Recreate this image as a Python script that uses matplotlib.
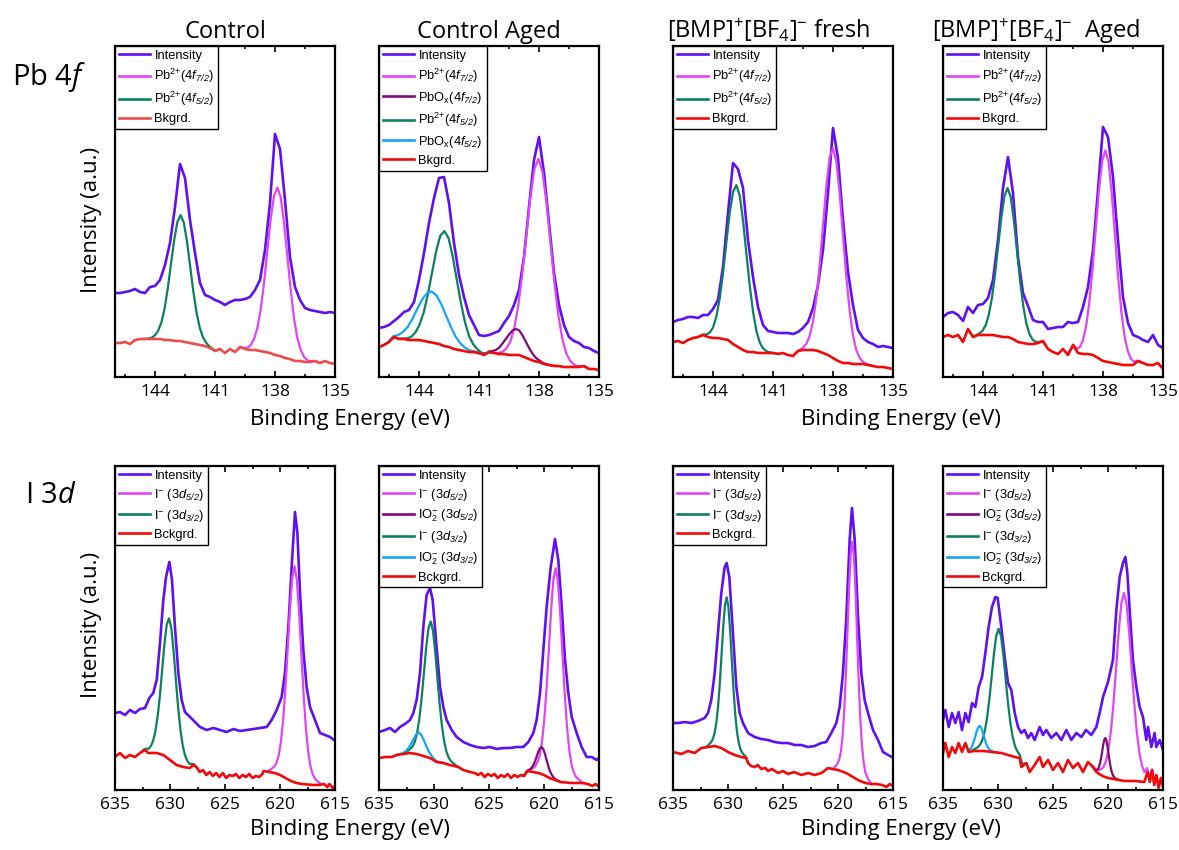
import numpy as np
import matplotlib
matplotlib.use('Agg')
import matplotlib.pyplot as plt
from matplotlib.ticker import MultipleLocator

plt.rcParams['font.family'] = ['Open Sans', 'DejaVu Sans']
plt.rcParams['mathtext.fontset'] = 'custom'
plt.rcParams['mathtext.rm'] = 'Open Sans'
plt.rcParams['mathtext.it'] = 'Open Sans:italic'
plt.rcParams['mathtext.sf'] = 'Liberation Sans:italic'

# ---------------------------------------------------------------- data
column_titles = ['Control', 'Control Aged',
                 '[BMP]$\\mathregular{^{+}}$[BF$\\mathregular{_{4}}$]$\\mathregular{^{-}}$ fresh',
                 '[BMP]$\\mathregular{^{+}}$[BF$\\mathregular{_{4}}$]$\\mathregular{^{-}}$  Aged']
row_titles = ['Pb 4$\\mathit{f}$', 'I 3$\\mathit{d}$']

pb_ticks_major, pb_ticks_minor = 3, 1.5
i_ticks_major, i_ticks_minor = 5, 2.5
pb_range = (146, 135)
i_range = (635, 615)

# Pb 4f: shared binding-energy grid (eV)
pb_energy = np.linspace(146.0, 135.0, 45)

pb_control_int = [84, 84, 85, 86, 88, 85, 84, 90, 91, 97, 112, 134, 170, 213, 199,
                  157, 124, 94, 82, 80, 77, 75, 72, 75, 77, 77, 78, 80, 87, 97,
                  127, 174, 243, 228, 177, 120, 90, 77, 69, 67, 66, 65, 64, 65, 64]
pb_control_bkg = [34, 34, 35, 33, 37, 38, 38, 38, 38, 38, 37, 37, 36, 36, 35,
                  34, 33, 32, 31, 29, 26, 28, 24, 28, 25, 30, 28, 27, 27, 26,
                  25, 24, 22, 21, 19, 18, 16, 16, 15, 15, 16, 14, 16, 14, 13]
pb_aged_int = [49, 50, 52, 56, 60, 65, 67, 75, 97, 124, 154, 179, 199, 200, 174,
               134, 102, 80, 62, 52, 42, 41, 42, 44, 46, 54, 61, 72, 87, 120,
               170, 217, 240, 204, 154, 104, 72, 52, 40, 36, 34, 30, 29, 26, 24]
pb_aged_bkg = [30, 32, 35, 40, 38, 38, 37, 37, 37, 36, 35, 34, 33, 31, 30,
               28, 27, 26, 25, 25, 24, 22, 25, 24, 23, 23, 22, 22, 22, 20,
               18, 16, 15, 13, 12, 11, 11, 10, 10, 10, 10, 11, 8, 8, 7]
pb_bmp_int = [55, 57, 58, 60, 60, 59, 62, 62, 68, 77, 110, 164, 214, 208, 189,
              137, 100, 70, 52, 46, 45, 44, 44, 44, 43, 45, 49, 55, 69, 92,
              127, 184, 249, 219, 157, 105, 72, 47, 39, 35, 33, 30, 31, 30, 29]
pb_bmp_bkg = [35, 36, 34, 37, 39, 40, 42, 40, 39, 39, 38, 37, 33, 30, 27,
              25, 25, 24, 24, 24, 24, 23, 24, 22, 21, 26, 27, 27, 27, 26,
              24, 22, 19, 16, 14, 14, 13, 13, 13, 12, 11, 10, 10, 9, 8]
pb_bmpaged_int = [60, 64, 65, 62, 56, 70, 64, 72, 73, 79, 97, 137, 189, 220, 184,
                  120, 84, 71, 57, 55, 55, 48, 49, 50, 50, 55, 54, 55, 70, 90,
                  127, 187, 250, 240, 200, 137, 80, 54, 42, 40, 37, 35, 42, 32, 29]
pb_bmpaged_bkg = [40, 42, 40, 42, 35, 48, 40, 42, 42, 42, 42, 41, 40, 40, 38,
                  35, 34, 33, 33, 34, 36, 28, 25, 23, 28, 22, 32, 24, 23, 23,
                  22, 19, 16, 15, 14, 13, 12, 12, 12, 16, 14, 12, 12, 14, 8]

# Pb 4f fitted components (height above background), with their energy spans
pb_control_72_span = (139.88, 135.88)
pb_control_72 = [0, 0.2, 0.7, 1.8, 4.9, 11.1, 22.7, 41.8, 69.0, 102.0, 134.6, 158.9, 168,
                 158.9, 134.6, 102.0, 69.0, 41.8, 22.7, 11.1, 4.9, 1.8, 0.7, 0.2, 0]
pb_control_52_span = (144.64, 140.80)
pb_control_52 = [0, 0.1, 0.5, 1.4, 3.7, 8.3, 17.0, 31.4, 51.8, 76.5, 100.9, 119.2, 126,
                 119.2, 100.9, 76.5, 51.8, 31.4, 17.0, 8.3, 3.7, 1.4, 0.5, 0.1, 0]

pb_aged_72_span = (140.43, 135.63)
pb_aged_72 = [0, 0.2, 0.8, 2.2, 5.9, 13.4, 27.4, 50.5, 83.4, 123.2, 162.6, 192.0, 203,
              192.0, 162.6, 123.2, 83.4, 50.5, 27.4, 13.4, 5.9, 2.2, 0.8, 0.2, 0]
pb_aged_ox72_span = (141.15, 137.15)
pb_aged_ox72 = [0, 0, 0.1, 0.3, 0.8, 1.7, 3.5, 6.5, 10.7, 15.8, 20.8, 24.6, 26,
                24.6, 20.8, 15.8, 10.7, 6.5, 3.5, 1.7, 0.8, 0.3, 0.1, 0, 0]
pb_aged_52_span = (145.21, 140.25)
pb_aged_52 = [0, 0.1, 0.5, 1.3, 3.3, 7.6, 15.5, 28.6, 47.3, 69.8, 92.1, 108.8, 115,
              108.8, 92.1, 69.8, 47.3, 28.6, 15.5, 7.6, 3.3, 1.3, 0.5, 0.1, 0]
pb_aged_ox52_span = (146.25, 140.49)
pb_aged_ox52 = [0, 0.1, 0.2, 0.6, 1.5, 3.4, 6.9, 12.7, 21.0, 31.0, 40.9, 48.2, 51,
                48.2, 40.9, 31.0, 21.0, 12.7, 6.9, 3.4, 1.5, 0.6, 0.2, 0.1, 0]

pb_bmp_72_span = (140.00, 136.00)
pb_bmp_72 = [0, 0.2, 0.8, 2.3, 6.1, 13.9, 28.4, 52.3, 86.3, 127.5, 168.2, 198.7, 210,
             198.7, 168.2, 127.5, 86.3, 52.3, 28.4, 13.9, 6.1, 2.3, 0.8, 0.2, 0]
pb_bmp_52_span = (144.83, 140.83)
pb_bmp_52 = [0, 0.2, 0.6, 1.8, 4.7, 10.6, 21.7, 40.1, 66.2, 97.7, 129.0, 152.3, 161,
             152.3, 129.0, 97.7, 66.2, 40.1, 21.7, 10.6, 4.7, 1.8, 0.6, 0.2, 0]

pb_bmpaged_72_span = (139.80, 135.96)
pb_bmpaged_72 = [0, 0.2, 0.8, 2.3, 6.1, 13.9, 28.5, 52.5, 86.7, 128.1, 169.0, 199.6, 211,
                 199.6, 169.0, 128.1, 86.7, 52.5, 28.5, 13.9, 6.1, 2.3, 0.8, 0.2, 0]
pb_bmpaged_52_span = (144.65, 140.89)
pb_bmpaged_52 = [0, 0.1, 0.6, 1.6, 4.3, 9.8, 20.1, 37.1, 61.2, 90.4, 119.3, 141.0, 149,
                 141.0, 119.3, 90.4, 61.2, 37.1, 20.1, 9.8, 4.3, 1.6, 0.6, 0.1, 0]

# I 3d: measured spectra (eV, a.u.)
i_control_int_e = [635.0, 634.55, 634.09, 633.64, 633.18, 632.73, 632.27, 631.88, 631.52, 631.21,
                   630.91, 630.61, 630.36, 630.06, 629.82, 629.55, 629.24, 628.94, 628.64, 628.18,
                   627.73, 627.27, 626.67, 626.06, 625.45, 624.85, 624.24, 623.64, 623.03, 622.42,
                   621.82, 621.21, 620.76, 620.30, 619.85, 619.55, 619.24, 618.94, 618.64, 618.42,
                   618.18, 617.88, 617.58, 617.27, 616.82, 616.36, 615.91, 615.45, 615.09]
i_control_int = [77, 78, 75, 80, 77, 81, 82, 92, 97, 110,
                 147, 190, 213, 228, 210, 163, 117, 90, 78, 73,
                 68, 63, 60, 62, 60, 58, 61, 59, 60, 61,
                 62, 63, 70, 80, 93, 117, 163, 223, 278, 257,
                 197, 140, 103, 83, 70, 57, 55, 53, 50]
i_control_bkg_e = [635.0, 634.55, 634.09, 633.64, 633.18, 632.73, 632.27, 631.97, 631.21, 630.61,
                   630.0, 629.4, 628.8, 628.2, 627.9, 627.6, 627.3, 627.0, 626.7, 626.4,
                   626.1, 625.8, 625.5, 625.2, 624.9, 624.6, 624.3, 624.0, 623.7, 623.4,
                   623.1, 622.8, 622.5, 622.2, 621.9, 621.6, 621.5, 621.0, 620.5, 620.0,
                   619.5, 619.0, 618.5, 618.0, 617.0, 616.5, 616.0, 615.7, 615.5, 615.2, 615.0]
i_control_bkg = [33, 37, 32, 35, 33, 37, 40, 37, 37, 35,
                 30, 25, 23, 22, 25, 23, 18, 20, 15, 18,
                 14, 17, 13, 17, 12, 15, 14, 16, 12, 15,
                 13, 16, 12, 14, 13, 16, 19, 18, 17, 15,
                 12, 9, 7, 6, 5, 5, 6, 3, 6, 2, 4]

i_aged_int_e = [635.0, 634.45, 634.0, 633.55, 633.09, 632.64, 632.18, 631.88, 631.58, 631.27,
                630.97, 630.67, 630.36, 630.12, 629.82, 629.45, 629.15, 628.85, 628.39, 627.94,
                627.33, 626.73, 626.12, 625.52, 624.91, 624.30, 623.70, 623.09, 622.48, 621.88,
                621.42, 620.97, 620.67, 620.36, 620.06, 619.76, 619.39, 619.0, 618.70, 618.39,
                618.09, 617.79, 617.48, 617.03, 616.58, 616.12, 615.67, 615.21, 615.0]
i_aged_int = [58, 60, 62, 58, 63, 66, 70, 77, 90, 117,
              163, 195, 202, 190, 150, 103, 83, 70, 60, 53,
              48, 45, 43, 42, 43, 41, 42, 42, 43, 43,
              48, 57, 70, 97, 140, 183, 223, 251, 230, 183,
              130, 97, 73, 57, 43, 33, 33, 30, 32]
i_aged_bkg_e = [635.0, 634.45, 633.85, 633.4, 632.79, 632.18, 631.58, 630.97, 630.36, 629.76,
                629.15, 628.55, 627.79, 627.33, 626.73, 626.3, 626.0, 625.7, 625.4, 625.1,
                624.8, 624.5, 624.2, 623.9, 623.6, 623.3, 623.0, 622.7, 622.4, 622.1,
                621.8, 621.5, 621.0, 620.5, 620.0, 619.5, 619.0, 618.5, 617.5, 616.5,
                616.0, 615.6, 615.3, 615.0]
i_aged_bkg = [32, 33, 33, 35, 36, 37, 36, 34, 32, 28,
              27, 25, 23, 20, 18, 17, 15, 17, 13, 16,
              14, 16, 12, 15, 13, 16, 12, 15, 13, 15,
              14, 19, 18, 17, 15, 12, 10, 8, 7, 7,
              6, 4, 6, 3]

i_bmp_int_e = [635.0, 634.55, 633.94, 633.33, 632.73, 632.12, 631.82, 631.52, 631.21, 630.91,
               630.61, 630.30, 630.12, 629.88, 629.55, 629.24, 628.94, 628.64, 628.18, 627.58,
               626.97, 626.36, 625.76, 625.15, 624.55, 623.94, 623.33, 622.73, 622.12, 621.52,
               621.06, 620.61, 620.15, 619.85, 619.55, 619.24, 618.94, 618.73, 618.48, 618.18,
               617.88, 617.58, 617.27, 616.82, 616.36, 615.91, 615.45, 615.09]
i_bmp_int = [67, 67, 68, 67, 69, 72, 77, 90, 117, 157,
             197, 223, 227, 213, 157, 103, 77, 67, 57, 53,
             51, 50, 48, 47, 47, 45, 45, 43, 44, 47,
             48, 57, 67, 83, 117, 173, 250, 282, 250, 173,
             117, 90, 77, 60, 50, 38, 35, 33]
i_bmp_bkg_e = [635.0, 634.24, 633.64, 633.03, 632.42, 631.82, 631.21, 630.61, 630.0, 629.39,
               628.79, 628.33, 628.18, 627.9, 627.58, 627.3, 626.97, 626.6, 626.36, 626.0,
               625.45, 625.0, 624.55, 624.0, 623.33, 622.7, 622.12, 621.5, 620.91, 620.5,
               620.0, 619.5, 619.09, 618.5, 618.0, 617.5, 617.0, 616.5, 616.0, 615.6,
               615.3, 615.0]
i_bmp_bkg = [38, 36, 39, 37, 42, 43, 44, 42, 38, 35,
             33, 32, 27, 24, 23, 25, 21, 22, 19, 21,
             17, 19, 16, 18, 15, 17, 15, 17, 22, 21,
             20, 18, 16, 12, 9, 7, 6, 6, 5, 3,
             6, 4]

i_bmpaged_int_e = [635.0, 634.79, 634.48, 634.18, 633.88, 633.58, 633.27, 632.97, 632.67, 632.36,
                   632.06, 631.76, 631.45, 631.15, 630.85, 630.55, 630.24, 630.03, 629.7, 629.39,
                   629.09, 628.79, 628.48, 628.18, 627.88, 627.58, 627.27, 626.97, 626.67, 626.21,
                   625.91, 625.61, 625.15, 624.7, 624.24, 623.79, 623.33, 622.88, 622.42, 622.0,
                   621.52, 621.06, 620.76, 620.45, 620.0, 619.55, 619.24, 618.94, 618.64, 618.42,
                   618.24, 618.03, 617.73, 617.42, 617.12, 616.82, 616.52, 616.36, 616.06, 615.76,
                   615.61, 615.3, 615.0]
i_bmpaged_int = [70, 80, 63, 77, 67, 78, 60, 77, 68, 87,
                 83, 103, 113, 137, 163, 183, 193, 192, 163, 133,
                 107, 100, 77, 63, 57, 60, 52, 57, 50, 63,
                 55, 60, 52, 57, 50, 60, 50, 57, 53, 60,
                 55, 63, 77, 93, 108, 130, 180, 213, 227, 233,
                 217, 180, 130, 103, 83, 73, 50, 63, 43, 57,
                 43, 50, 40]
i_bmpaged_bkg_e = [635.0, 634.79, 634.48, 634.18, 633.88, 633.58, 633.27, 632.97, 632.67, 632.21,
                   631.30, 629.70, 628.48, 628.03, 627.88, 627.42, 627.12, 626.67, 626.21, 625.91,
                   625.45, 625.0, 624.55, 624.09, 623.64, 623.18, 622.73, 622.27, 621.82, 621.36,
                   621.06, 620.5, 620.0, 619.5, 619.0, 618.5, 617.5, 616.7, 616.4, 616.2,
                   616.0, 615.8, 615.6, 615.4, 615.2, 615.0]
i_bmpaged_bkg = [37, 47, 33, 43, 37, 47, 38, 47, 38, 39,
                 39, 37, 33, 32, 23, 27, 18, 25, 33, 23,
                 30, 20, 27, 18, 30, 22, 27, 18, 28, 23,
                 18, 14, 12, 11, 10, 9, 9, 8, 18, 8,
                 20, 5, 15, 2, 12, 3]

# I 3d fitted components (height above background), with their energy spans
i_control_52_span = (621.16, 616.20)
i_control_52 = [0, 1.9, 3.9, 6.3, 10.6, 18.6, 33.3, 56.6, 89.6, 130.2, 171.7, 203.7, 216,
                203.7, 171.7, 130.2, 89.6, 56.6, 33.3, 18.6, 10.6, 6.3, 3.9, 1.9, 0]
i_control_32_span = (632.57, 627.61)
i_control_32 = [0, 1.3, 2.5, 4.1, 6.9, 12.1, 21.7, 36.9, 58.5, 85.0, 112.1, 133.0, 141,
                133.0, 112.1, 85.0, 58.5, 36.9, 21.7, 12.1, 6.9, 4.1, 2.5, 1.3, 0]

i_aged_52_span = (621.42, 616.46)
i_aged_52 = [0, 1.9, 3.8, 6.1, 10.4, 18.2, 32.6, 55.5, 88.0, 127.8, 168.5, 199.9, 212,
             199.9, 168.5, 127.8, 88.0, 55.5, 32.6, 18.2, 10.4, 6.1, 3.8, 1.9, 0]
i_aged_ox52_span = (622.01, 618.41)
i_aged_ox52 = [0, 0.2, 0.5, 0.8, 1.3, 2.3, 4.2, 7.1, 11.2, 16.3, 21.5, 25.5, 27,
               25.5, 21.5, 16.3, 11.2, 7.1, 4.2, 2.3, 1.3, 0.8, 0.5, 0.2, 0]
i_aged_32_span = (632.78, 627.82)
i_aged_32 = [0, 1.2, 2.5, 4.0, 6.7, 11.8, 21.1, 35.9, 56.9, 82.6, 108.9, 129.2, 137,
             129.2, 108.9, 82.6, 56.9, 35.9, 21.1, 11.8, 6.7, 4.0, 2.5, 1.2, 0]
i_aged_ox32_span = (633.56, 629.16)
i_aged_ox32 = [0, 0.2, 0.4, 0.6, 1.1, 1.9, 3.4, 5.8, 9.1, 13.3, 17.5, 20.7, 22,
               20.7, 17.5, 13.3, 9.1, 5.8, 3.4, 1.9, 1.1, 0.6, 0.4, 0.2, 0]

i_bmp_52_span = (620.46, 616.94)
i_bmp_52 = [0, 2.1, 4.2, 6.8, 11.5, 20.2, 36.2, 61.6, 97.5, 141.7, 186.8, 221.6, 235,
            221.6, 186.8, 141.7, 97.5, 61.6, 36.2, 20.2, 11.5, 6.8, 4.2, 2.1, 0]
i_bmp_32_span = (632.00, 628.24)
i_bmp_32 = [0, 1.4, 2.8, 4.5, 7.5, 13.2, 23.7, 40.3, 63.9, 92.9, 122.4, 145.2, 154,
            145.2, 122.4, 92.9, 63.9, 40.3, 23.7, 13.2, 7.5, 4.5, 2.8, 1.4, 0]

i_bmpaged_52_span = (621.35, 615.75)
i_bmpaged_52 = [0, 1.7, 3.4, 5.5, 9.2, 16.2, 29.0, 49.3, 78.0, 113.4, 149.5, 177.3, 188,
                177.3, 149.5, 113.4, 78.0, 49.3, 29.0, 16.2, 9.2, 5.5, 3.4, 1.7, 0]
i_bmpaged_ox52_span = (621.44, 619.04)
i_bmpaged_ox52 = [0, 0.4, 0.7, 1.1, 1.9, 3.4, 6.0, 10.2, 16.2, 23.5, 31.0, 36.8, 39,
                  36.8, 31.0, 23.5, 16.2, 10.2, 6.0, 3.4, 1.9, 1.1, 0.7, 0.4, 0]
i_bmpaged_32_span = (632.50, 627.38)
i_bmpaged_32 = [0, 1.1, 2.2, 3.6, 6.1, 10.7, 19.1, 32.5, 51.5, 74.8, 98.6, 116.9, 124,
                116.9, 98.6, 74.8, 51.5, 32.5, 19.1, 10.7, 6.1, 3.6, 2.2, 1.1, 0]
i_bmpaged_ox32_span = (633.19, 630.15)
i_bmpaged_ox32 = [0, 0.2, 0.5, 0.7, 1.2, 2.2, 3.9, 6.6, 10.4, 15.1, 19.9, 23.6, 25,
                  23.6, 19.9, 15.1, 10.4, 6.6, 3.9, 2.2, 1.2, 0.7, 0.5, 0.2, 0]

# legend labels
L_INT = 'Intensity'
L_PB72 = 'Pb$\\mathregular{^{2{+}}}$(4$\\mathsf{f_{7/2}}$)'
L_PB52 = 'Pb$\\mathregular{^{2{+}}}$(4$\\mathsf{f_{5/2}}$)'
L_OX72 = 'PbO$\\mathregular{_x}$(4$\\mathsf{f_{7/2}}$)'
L_OX52 = 'PbO$\\mathregular{_x}$(4$\\mathsf{f_{5/2}}$)'
L_I52 = 'I$\\mathregular{^{-}}$ (3$\\mathsf{d_{5/2}}$)'
L_I32 = 'I$\\mathregular{^{-}}$ (3$\\mathsf{d_{3/2}}$)'
L_IO52 = 'IO$\\mathregular{_2^{-}}$ (3$\\mathsf{d_{5/2}}$)'
L_IO32 = 'IO$\\mathregular{_2^{-}}$ (3$\\mathsf{d_{3/2}}$)'
L_BKG_PB = 'Bkgrd.'
L_BKG_I = 'Bckgrd.'

# ---------------------------------------------------------------- style
C_INT = '#5F10F2'
C_72 = '#DE46F6'
C_OX72 = '#7E0A78'
C_52 = '#0C8060'
C_OX52 = '#14A6F5'
C_BKG = '#F20A0A'
C_BKG_LIGHT = '#EE4B4B'

W, H = 1179, 850
col_left = [115, 379, 673, 943]
col_w = 220
rows_px = [(46, 377), (466, 790)]

panels = [
    dict(ex=pb_energy, inten=pb_control_int, bx=pb_energy, by=pb_control_bkg, bcol=C_BKG_LIGHT, blab=L_BKG_PB,
         comps=[(pb_control_72_span, pb_control_72, C_72, L_PB72),
                (pb_control_52_span, pb_control_52, C_52, L_PB52)]),
    dict(ex=pb_energy, inten=pb_aged_int, bx=pb_energy, by=pb_aged_bkg, bcol=C_BKG, blab=L_BKG_PB,
         comps=[(pb_aged_72_span, pb_aged_72, C_72, L_PB72),
                (pb_aged_ox72_span, pb_aged_ox72, C_OX72, L_OX72),
                (pb_aged_52_span, pb_aged_52, C_52, L_PB52),
                (pb_aged_ox52_span, pb_aged_ox52, C_OX52, L_OX52)]),
    dict(ex=pb_energy, inten=pb_bmp_int, bx=pb_energy, by=pb_bmp_bkg, bcol=C_BKG, blab=L_BKG_PB,
         comps=[(pb_bmp_72_span, pb_bmp_72, C_72, L_PB72),
                (pb_bmp_52_span, pb_bmp_52, C_52, L_PB52)]),
    dict(ex=pb_energy, inten=pb_bmpaged_int, bx=pb_energy, by=pb_bmpaged_bkg, bcol=C_BKG, blab=L_BKG_PB,
         comps=[(pb_bmpaged_72_span, pb_bmpaged_72, C_72, L_PB72),
                (pb_bmpaged_52_span, pb_bmpaged_52, C_52, L_PB52)]),
    dict(ex=i_control_int_e, inten=i_control_int, bx=i_control_bkg_e, by=i_control_bkg, bcol=C_BKG, blab=L_BKG_I,
         comps=[(i_control_52_span, i_control_52, C_72, L_I52),
                (i_control_32_span, i_control_32, C_52, L_I32)]),
    dict(ex=i_aged_int_e, inten=i_aged_int, bx=i_aged_bkg_e, by=i_aged_bkg, bcol=C_BKG, blab=L_BKG_I,
         comps=[(i_aged_52_span, i_aged_52, C_72, L_I52),
                (i_aged_ox52_span, i_aged_ox52, C_OX72, L_IO52),
                (i_aged_32_span, i_aged_32, C_52, L_I32),
                (i_aged_ox32_span, i_aged_ox32, C_OX52, L_IO32)]),
    dict(ex=i_bmp_int_e, inten=i_bmp_int, bx=i_bmp_bkg_e, by=i_bmp_bkg, bcol=C_BKG, blab=L_BKG_I,
         comps=[(i_bmp_52_span, i_bmp_52, C_72, L_I52),
                (i_bmp_32_span, i_bmp_32, C_52, L_I32)]),
    dict(ex=i_bmpaged_int_e, inten=i_bmpaged_int, bx=i_bmpaged_bkg_e, by=i_bmpaged_bkg, bcol=C_BKG, blab=L_BKG_I,
         comps=[(i_bmpaged_52_span, i_bmpaged_52, C_72, L_I52),
                (i_bmpaged_ox52_span, i_bmpaged_ox52, C_OX72, L_IO52),
                (i_bmpaged_32_span, i_bmpaged_32, C_52, L_I32),
                (i_bmpaged_ox32_span, i_bmpaged_ox32, C_OX52, L_IO32)]),
]

fig = plt.figure(figsize=(W / 100, H / 100), dpi=100)
fig.patch.set_facecolor('white')

for idx, p in enumerate(panels):
    r, c = divmod(idx, 4)
    top, bot = rows_px[r]
    ax = fig.add_axes([col_left[c] / W, 1 - bot / H, col_w / W, (bot - top) / H])

    ax.plot(p['ex'], p['inten'], color=C_INT, lw=1.9, label=L_INT, solid_joinstyle='round')
    bx = np.asarray(p['bx'], float)
    by = np.asarray(p['by'], float)
    order = np.argsort(bx)
    for span, vals, col, lab in p['comps']:
        vals = np.asarray(vals, float)
        x = np.linspace(span[0], span[1], len(vals))
        base = np.interp(x, bx[order], by[order])
        ax.plot(x, base + vals, color=col, lw=1.6, label=lab)
    ax.plot(bx, by, color=p['bcol'], lw=1.9, label=p['blab'])

    if r == 0:
        ax.set_xlim(*pb_range)
        ax.xaxis.set_major_locator(MultipleLocator(pb_ticks_major))
        ax.xaxis.set_minor_locator(MultipleLocator(pb_ticks_minor))
    else:
        ax.set_xlim(*i_range)
        ax.xaxis.set_major_locator(MultipleLocator(i_ticks_major))
        ax.xaxis.set_minor_locator(MultipleLocator(i_ticks_minor))
    ax.set_ylim(0, bot - top)
    ax.set_yticks([])
    ax.tick_params(axis='x', which='both', direction='in', top=True, bottom=True,
                   labelsize=12.5, pad=5, width=1.2)
    ax.tick_params(axis='x', which='major', length=4.5)
    ax.tick_params(axis='x', which='minor', length=2.5)
    for s in ax.spines.values():
        s.set_linewidth(1.6)

    leg = ax.legend(loc='upper left', bbox_to_anchor=(0, 1), borderaxespad=0,
                    frameon=True, fancybox=False, edgecolor='black', framealpha=1,
                    prop={'family': 'Liberation Sans', 'size': 9.3},
                    handlelength=2.4, handletextpad=0.35, labelspacing=0.38,
                    borderpad=0.3)
    leg.get_frame().set_linewidth(1.0)
    for ln in leg.get_lines():
        ln.set_linewidth(1.9)

title_x = [225, 489, 768, 1036]
for t, x in zip(column_titles, title_x):
    fig.text(x / W, 1 - 38 / H, t, ha='center', va='baseline', fontsize=17)

fig.text(12 / W, 1 - 85 / H, row_titles[0], ha='left', va='baseline', fontsize=21)
fig.text(25 / W, 1 - 503 / H, row_titles[1], ha='left', va='baseline', fontsize=21)

for yc in [220, 625]:
    fig.text(91 / W, 1 - yc / H, 'Intensity (a.u.)', rotation=90, ha='center', va='center', fontsize=16)
for xc in [350, 901]:
    fig.text(xc / W, 1 - 425 / H, 'Binding Energy (eV)', ha='center', va='baseline', fontsize=16)
    fig.text(xc / W, 1 - 835 / H, 'Binding Energy (eV)', ha='center', va='baseline', fontsize=16)

fig.savefig('out.png', dpi=100)
